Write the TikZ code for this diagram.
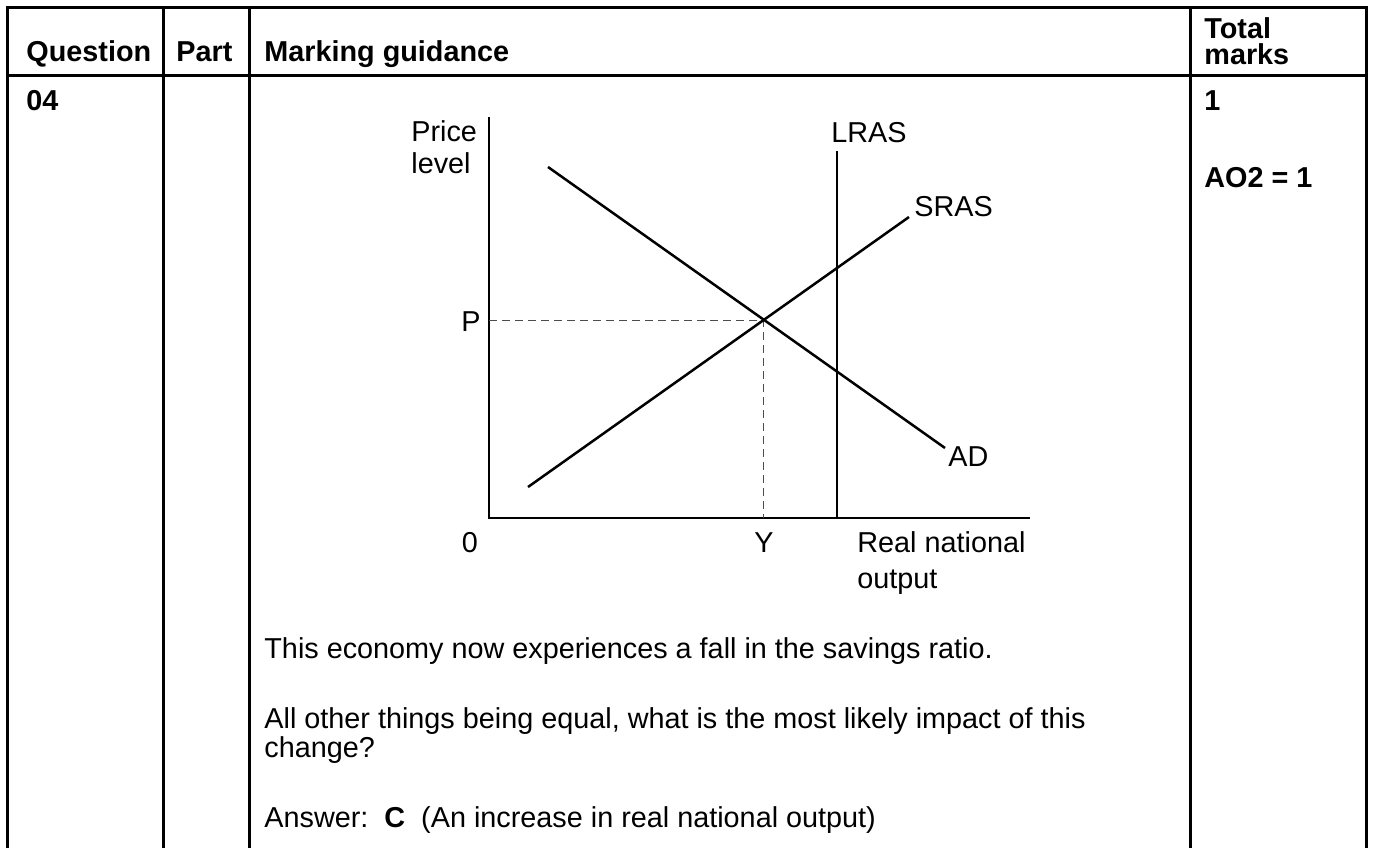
\documentclass[tikz,border=0pt]{standalone}
\usepackage{fontspec}
\setmainfont{Liberation Sans}
\begin{document}
\begin{tikzpicture}[x=0.5pt,y=-0.5pt,
  rule/.style={line width=1.5pt},
  curve/.style={line width=1.25pt},
  axisline/.style={line width=1pt},
  guide/.style={line width=0.5pt, draw=black!70, dash pattern=on 4pt off 2.5pt},
  txt/.style={inner sep=0pt, anchor=base west, font=\fontsize{14.4}{16}\selectfont},
  hdr/.style={txt, font=\fontsize{14.4}{16}\selectfont\bfseries},
  lbl/.style={inner sep=0pt, font=\fontsize{14.4}{16}\selectfont}]
\useasboundingbox (0,0) rectangle (1373,848);

% table grid
\coordinate (tl) at (7,7);
\coordinate (tr) at (1366,7);
\draw[rule] (7,848) -- (tl) -- (tr) -- (1366,848);
\draw[rule] (163,7) -- (163,848);
\draw[rule] (249,7) -- (249,848);
\draw[rule] (1190,7) -- (1190,848);
\draw[rule] (7,75) -- (1366,75);

% header row
\node[hdr] (hq) at (26,61) {Question};
\node[hdr] (hp) at (176,61) {Part};
\node[hdr] (hm) at (264,61) {Marking guidance};
\node[hdr] (ht1) at (1204,38) {Total};
\node[hdr] (ht2) at (1204,64) {marks};

% first row
\node[hdr] (qno) at (26,110) {04};
\node[hdr] (mk) at (1204,110) {1};
\node[hdr] (ao) at (1204,187) {AO2 = 1};

% AD/AS diagram
\coordinate (origin) at (489,518);
\coordinate (ytop) at (489,117);
\coordinate (xend) at (1030,518);
\draw[axisline] (ytop) -- (origin) -- (xend);

\coordinate (eq) at (763,320);
\coordinate (pax) at (489,320);
\coordinate (yax) at (763,518);
\draw[guide] (pax) -- (eq) -- (yax);

\coordinate (lrasT) at (837,151);
\coordinate (lrasB) at (837,518);
\draw[curve] (lrasT) -- (lrasB);

\coordinate (sras1) at (528,487);
\coordinate (sras2) at (909,217);
\draw[curve] (sras1) -- (sras2);

\coordinate (ad1) at (548,167);
\coordinate (ad2) at (945,448);
\draw[curve] (ad1) -- (ad2);

\node[lbl, anchor=base west] (price) at (411,141) {Price};
\node[lbl, anchor=base west] (level) at (411,173) {level};
\node[lbl, anchor=base] (plbl) at (471,331) {P};
\node[lbl, anchor=base west] (lras) at (831,142) {LRAS};
\node[lbl, anchor=base west] (sras) at (914,216) {SRAS};
\node[lbl, anchor=base west] (ad) at (948,466) {AD};
\node[lbl, anchor=base] (zero) at (470,552) {0};
\node[lbl, anchor=base] (ylbl) at (764,552) {Y};
\node[lbl, anchor=base west] (rno1) at (857,552) {Real national};
\node[lbl, anchor=base west] (rno2) at (857,588) {output};

% question text
\node[txt] (q1) at (264,658) {This economy now experiences a fall in the savings ratio.};
\node[txt] (q2) at (264,728) {All other things being equal, what is the most likely impact of this};
\node[txt] (q3) at (264,757) {change?};
\node[txt] (ans) at (264,827) {Answer:\ \ \textbf{C}\ \ (An increase in real national output)};
\end{tikzpicture}
\end{document}
